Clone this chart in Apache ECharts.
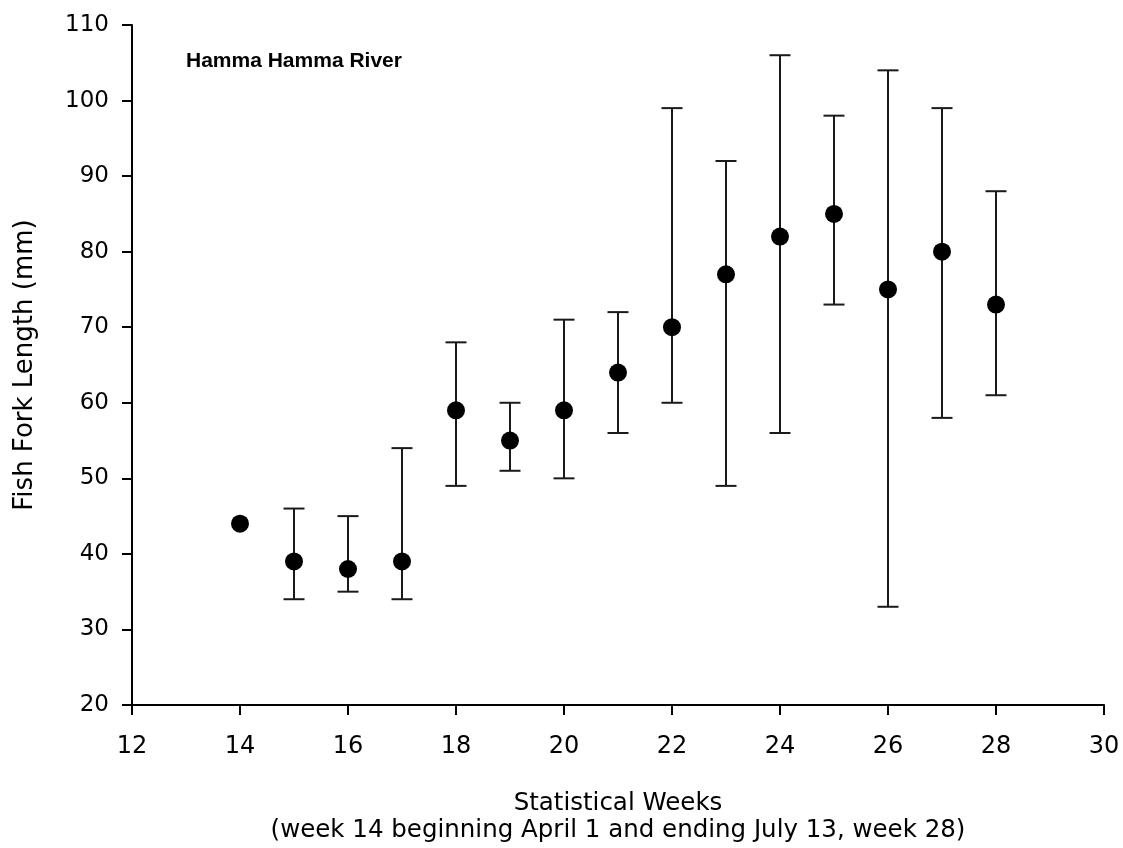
<!DOCTYPE html>
<html>
<head>
<meta charset="utf-8">
<script src="https://cdn.jsdelivr.net/npm/echarts@6/dist/echarts.min.js"></script>
<style>html,body{margin:0;padding:0;background:#fff}#c{width:1123px;height:848px}</style>
</head>
<body>
<div id="c"></div>
<script>
const weeks = [14, 15, 16, 17, 18, 19, 20, 21, 22, 23, 24, 25, 26, 27, 28];
const meanLength = [44, 39, 38, 39, 59, 55, 59, 64, 70, 77, 82, 85, 75, 80, 73];
const lowLength = [null, 34, 35, 34, 49, 51, 50, 56, 60, 49, 56, 73, 33, 58, 61];
const highLength = [null, 46, 45, 54, 68, 60, 71, 72, 99, 92, 106, 98, 104, 99, 88];

const chart = echarts.init(document.getElementById('c'), null, {renderer: 'canvas'});
const font = '"DejaVu Sans", "Liberation Sans", Arial, sans-serif';
const boldFont = '"Liberation Sans", Arial, sans-serif';
const errData = weeks.map((w, i) => [w, lowLength[i], highLength[i]]).filter(d => d[1] != null);

chart.setOption({
  animation: false,
  backgroundColor: '#fff',
  title: {
    text: 'Hamma Hamma River',
    left: 181, top: 46,
    textStyle: {fontFamily: boldFont, fontSize: 21, fontWeight: 'bold', color: '#000'}
  },
  grid: {left: 132, right: 19, top: 25, bottom: 143, containLabel: false, outerBoundsMode: 'none'},
  xAxis: {
    type: 'value', min: 12, max: 30, interval: 2,
    name: 'Statistical Weeks\n(week 14 beginning April 1 and ending July 13, week 28)',
    nameLocation: 'middle', nameGap: 85,
    nameTextStyle: {fontFamily: font, fontSize: 24.5, color: '#000', lineHeight: 27},
    axisLine: {lineStyle: {color: '#000', width: 2}},
    axisTick: {inside: false, length: 10, lineStyle: {color: '#000', width: 2}},
    axisLabel: {fontFamily: font, fontSize: 24, color: '#000', margin: 30},
    splitLine: {show: false}
  },
  yAxis: {
    type: 'value', min: 20, max: 110, interval: 10,
    name: 'Fish Fork Length (mm)',
    nameLocation: 'middle', nameGap: 94,
    nameTextStyle: {fontFamily: font, fontSize: 26, color: '#000'},
    axisLine: {show: true, lineStyle: {color: '#000', width: 2}},
    axisTick: {show: true, inside: false, length: 10, lineStyle: {color: '#000', width: 2}},
    axisLabel: {fontFamily: font, fontSize: 23, color: '#000', margin: 23},
    splitLine: {show: false}
  },
  series: [
    {
      type: 'custom',
      data: errData,
      encode: {x: 0, y: [1, 2]},
      z: 2,
      renderItem: function (params, api) {
        const x = api.value(0);
        const lo = api.coord([x, api.value(1)]);
        const hi = api.coord([x, api.value(2)]);
        const hw = 10.5;
        const style = {stroke: '#1a1a1a', lineWidth: 2};
        return {
          type: 'group',
          children: [
            {type: 'line', shape: {x1: hi[0], y1: hi[1], x2: lo[0], y2: lo[1]}, style: style},
            {type: 'line', shape: {x1: hi[0] - hw, y1: hi[1], x2: hi[0] + hw, y2: hi[1]}, style: style},
            {type: 'line', shape: {x1: lo[0] - hw, y1: lo[1], x2: lo[0] + hw, y2: lo[1]}, style: style}
          ]
        };
      }
    },
    {
      type: 'scatter',
      data: weeks.map((w, i) => [w, meanLength[i]]),
      symbol: 'circle',
      symbolSize: 18,
      z: 3,
      itemStyle: {color: '#000', opacity: 1}
    }
  ]
});
</script>
</body>
</html>
